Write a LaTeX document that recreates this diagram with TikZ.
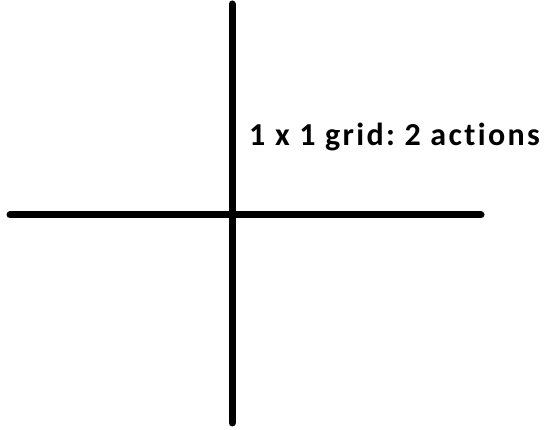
\documentclass[tikz,border=0pt]{standalone}
\usepackage{fontspec}
\setmainfont{Carlito}[Ligatures=NoCommon]
\usetikzlibrary{positioning}
\frenchspacing
\tikzset{
    x=1pt, y=-1pt, % Pixel-like units, origin at top left
    axis/.style={ % Sets the properties for the two thick strokes
        draw=black,
        line width=7pt,
        line cap=round
    },
    caption/.style={ % Label beside the cross
        font=\fontsize{32}{37}\selectfont\bfseries\addfontfeature{LetterSpace=7.4},
        inner sep=0pt,
        anchor=base west
    }
}
\begin{document}
\begin{tikzpicture}
            \useasboundingbox (0,0) rectangle (555,430);
            \coordinate (top) at (232,4);
            \coordinate (bottom) at (232,423);
            \coordinate (left) at (10,215);
            \coordinate (right) at (481,215);

            \draw[axis] (top) -- (bottom);
            \draw[axis] (left) -- (right);

            \node[caption] (label) at (249,146) {1 x 1 grid: 2 actions};
        \end{tikzpicture}
\end{document}
